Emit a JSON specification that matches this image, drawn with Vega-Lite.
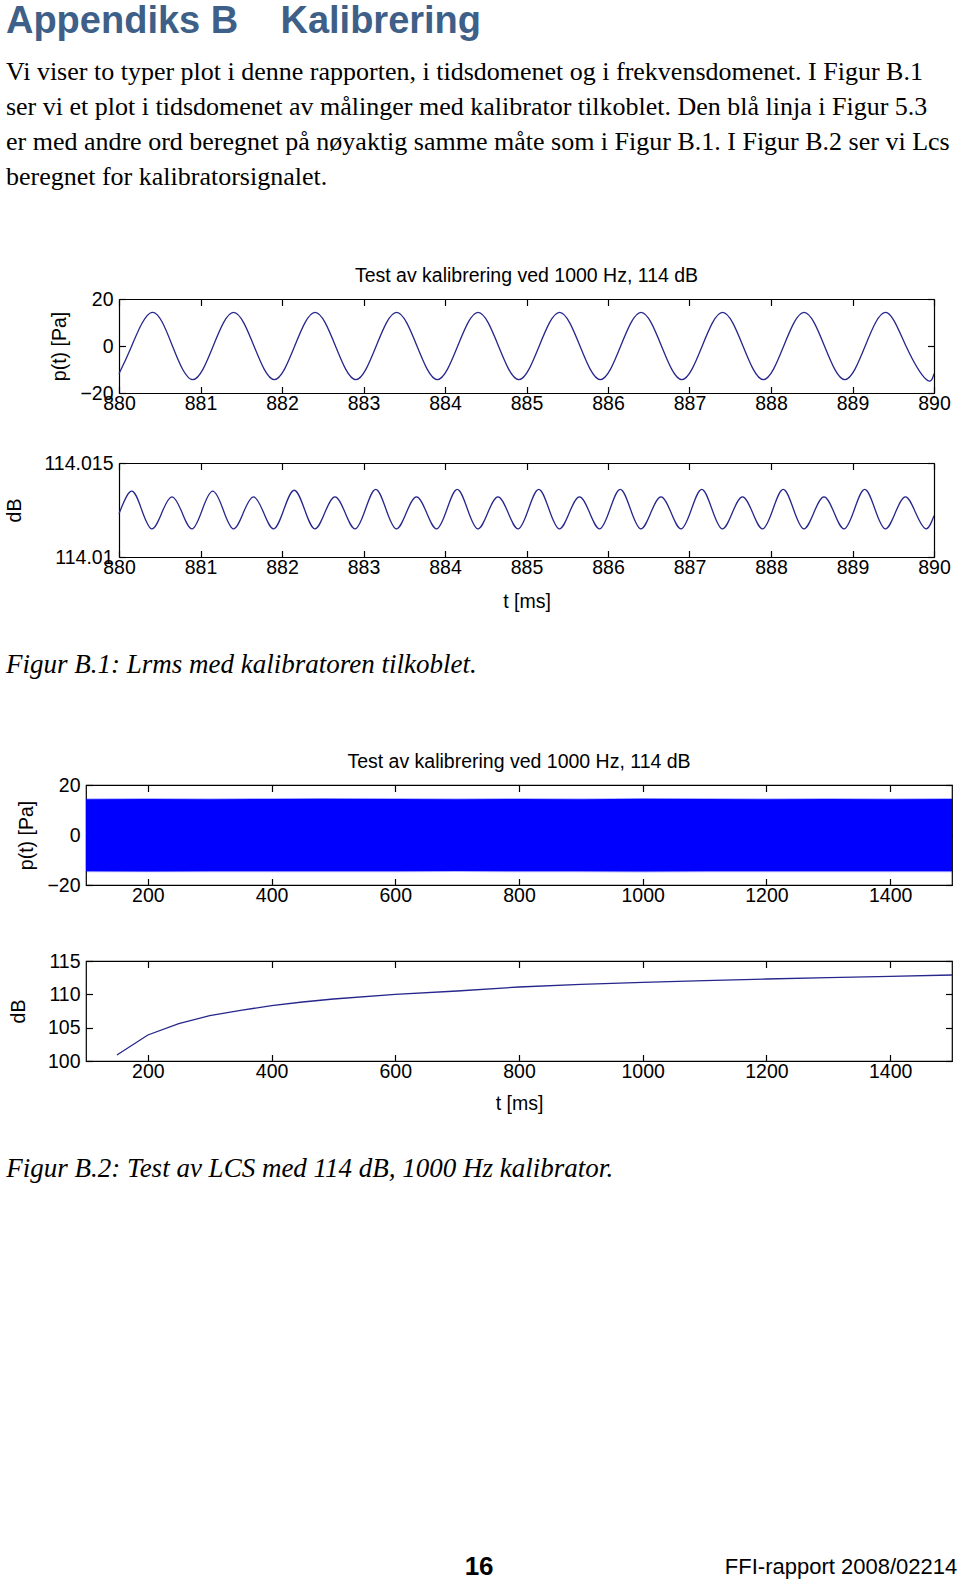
{
  "$schema": "https://vega.github.io/schema/vega-lite/v6.json",
  "background": "white",
  "padding": {"left": 4, "top": 2, "right": 0, "bottom": 0},
  "config": {
    "view": {"stroke": "black", "strokeWidth": 1.2},
    "axis": {"grid": false, "domain": false, "domainColor": "black", "domainWidth": 1.2, "labelFont": "Liberation Sans", "labelFontSize": 19.5, "labelColor": "black", "titleFont": "Liberation Sans", "titleFontSize": 19.5, "titleFontWeight": "normal", "titleColor": "black", "tickColor": "black", "tickSize": -6.5, "tickWidth": 1.2, "labelFlush": false, "labelOverlap": false},
    "axisX": {"labelPadding": 8, "titlePadding": 15},
    "axisY": {"labelPadding": 12.5},
    "title": {"font": "Liberation Sans", "fontWeight": "normal", "color": "black", "subtitleColor": "black"}
  },
  "datasets": {
    "p1": [
      {"t": 880.0, "p": -11.8}, {"t": 880.156, "p": 0}, {"t": 880.406, "p": 14.3}, {"t": 880.656, "p": 0},
      {"t": 880.906, "p": -14.3}, {"t": 881.156, "p": 0}, {"t": 881.406, "p": 14.3}, {"t": 881.656, "p": 0},
      {"t": 881.906, "p": -14.3}, {"t": 882.156, "p": 0}, {"t": 882.406, "p": 14.3}, {"t": 882.656, "p": 0},
      {"t": 882.906, "p": -14.3}, {"t": 883.156, "p": 0}, {"t": 883.406, "p": 14.3}, {"t": 883.656, "p": 0},
      {"t": 883.906, "p": -14.3}, {"t": 884.156, "p": 0}, {"t": 884.406, "p": 14.3}, {"t": 884.656, "p": 0},
      {"t": 884.906, "p": -14.3}, {"t": 885.156, "p": 0}, {"t": 885.406, "p": 14.3}, {"t": 885.656, "p": 0},
      {"t": 885.906, "p": -14.3}, {"t": 886.156, "p": 0}, {"t": 886.406, "p": 14.3}, {"t": 886.656, "p": 0},
      {"t": 886.906, "p": -14.3}, {"t": 887.156, "p": 0}, {"t": 887.406, "p": 14.3}, {"t": 887.656, "p": 0},
      {"t": 887.906, "p": -14.3}, {"t": 888.156, "p": 0}, {"t": 888.406, "p": 14.3}, {"t": 888.656, "p": 0},
      {"t": 888.906, "p": -14.3}, {"t": 889.156, "p": 0}, {"t": 889.406, "p": 14.3}, {"t": 889.656, "p": 0},
      {"t": 889.906, "p": -14.3}, {"t": 890.0, "p": -11.8}
    ],
    "p2": [
      {"t": 880.0, "db": 114.0123}, {"t": 880.15, "db": 114.0135}, {"t": 880.275, "db": 114.01255},
      {"t": 880.4, "db": 114.0115}, {"t": 880.525, "db": 114.01235}, {"t": 880.65, "db": 114.0132}, {"t": 880.775, "db": 114.01235},
      {"t": 880.9, "db": 114.0115}, {"t": 881.025, "db": 114.01255}, {"t": 881.15, "db": 114.0135}, {"t": 881.275, "db": 114.01255},
      {"t": 881.4, "db": 114.0115}, {"t": 881.525, "db": 114.01235}, {"t": 881.65, "db": 114.0132}, {"t": 881.775, "db": 114.01235},
      {"t": 881.9, "db": 114.0115}, {"t": 882.025, "db": 114.01255}, {"t": 882.15, "db": 114.01355}, {"t": 882.275, "db": 114.01255},
      {"t": 882.4, "db": 114.0115}, {"t": 882.525, "db": 114.01235}, {"t": 882.65, "db": 114.0132}, {"t": 882.775, "db": 114.01235},
      {"t": 882.9, "db": 114.0115}, {"t": 883.025, "db": 114.01255}, {"t": 883.15, "db": 114.0136}, {"t": 883.275, "db": 114.01255},
      {"t": 883.4, "db": 114.0115}, {"t": 883.525, "db": 114.01235}, {"t": 883.65, "db": 114.0132}, {"t": 883.775, "db": 114.01235},
      {"t": 883.9, "db": 114.0115}, {"t": 884.025, "db": 114.01255}, {"t": 884.15, "db": 114.0136}, {"t": 884.275, "db": 114.01255},
      {"t": 884.4, "db": 114.0115}, {"t": 884.525, "db": 114.01235}, {"t": 884.65, "db": 114.0132}, {"t": 884.775, "db": 114.01235},
      {"t": 884.9, "db": 114.0115}, {"t": 885.025, "db": 114.01255}, {"t": 885.15, "db": 114.0136}, {"t": 885.275, "db": 114.01255},
      {"t": 885.4, "db": 114.0115}, {"t": 885.525, "db": 114.01235}, {"t": 885.65, "db": 114.0132}, {"t": 885.775, "db": 114.01235},
      {"t": 885.9, "db": 114.0115}, {"t": 886.025, "db": 114.01255}, {"t": 886.15, "db": 114.0136}, {"t": 886.275, "db": 114.01255},
      {"t": 886.4, "db": 114.0115}, {"t": 886.525, "db": 114.01235}, {"t": 886.65, "db": 114.0132}, {"t": 886.775, "db": 114.01235},
      {"t": 886.9, "db": 114.0115}, {"t": 887.025, "db": 114.01255}, {"t": 887.15, "db": 114.0136}, {"t": 887.275, "db": 114.01255},
      {"t": 887.4, "db": 114.0115}, {"t": 887.525, "db": 114.01235}, {"t": 887.65, "db": 114.0132}, {"t": 887.775, "db": 114.01235},
      {"t": 887.9, "db": 114.0115}, {"t": 888.025, "db": 114.01255}, {"t": 888.15, "db": 114.0136}, {"t": 888.275, "db": 114.01255},
      {"t": 888.4, "db": 114.0115}, {"t": 888.525, "db": 114.01235}, {"t": 888.65, "db": 114.0132}, {"t": 888.775, "db": 114.01235},
      {"t": 888.9, "db": 114.0115}, {"t": 889.025, "db": 114.01255}, {"t": 889.15, "db": 114.0136}, {"t": 889.275, "db": 114.01255},
      {"t": 889.4, "db": 114.0115}, {"t": 889.525, "db": 114.01235}, {"t": 889.65, "db": 114.0132}, {"t": 889.775, "db": 114.01235},
      {"t": 889.9, "db": 114.0115}, {"t": 890.0, "db": 114.0122}
    ],
    "p3": [
      {"t": 100, "hi": 14.3, "lo": -14.5, "hi2": 14.7, "lo2": -14.9},
      {"t": 200, "hi": 14.4, "lo": -14.6, "hi2": 14.8, "lo2": -14.9},
      {"t": 300, "hi": 14.3, "lo": -14.5, "hi2": 14.7, "lo2": -14.9},
      {"t": 400, "hi": 14.4, "lo": -14.5, "hi2": 14.8, "lo2": -14.9},
      {"t": 480, "hi": 14.5, "lo": -14.5, "hi2": 14.8, "lo2": -14.9},
      {"t": 600, "hi": 14.4, "lo": -14.5, "hi2": 14.8, "lo2": -14.9},
      {"t": 700, "hi": 14.3, "lo": -14.4, "hi2": 14.7, "lo2": -14.8},
      {"t": 800, "hi": 14.4, "lo": -14.5, "hi2": 14.8, "lo2": -14.9},
      {"t": 900, "hi": 14.3, "lo": -14.5, "hi2": 14.7, "lo2": -14.9},
      {"t": 1000, "hi": 14.5, "lo": -14.6, "hi2": 14.8, "lo2": -15.0},
      {"t": 1100, "hi": 14.4, "lo": -14.5, "hi2": 14.8, "lo2": -14.9},
      {"t": 1200, "hi": 14.3, "lo": -14.5, "hi2": 14.7, "lo2": -14.9},
      {"t": 1300, "hi": 14.4, "lo": -14.5, "hi2": 14.8, "lo2": -14.9},
      {"t": 1400, "hi": 14.3, "lo": -14.5, "hi2": 14.7, "lo2": -14.9},
      {"t": 1500, "hi": 14.4, "lo": -14.5, "hi2": 14.8, "lo2": -14.9}
    ],
    "p4": [
      {"t": 150, "db": 100.9}, {"t": 200, "db": 103.9}, {"t": 250, "db": 105.6}, {"t": 300, "db": 106.8},
      {"t": 350, "db": 107.6}, {"t": 400, "db": 108.3}, {"t": 450, "db": 108.85}, {"t": 500, "db": 109.3},
      {"t": 600, "db": 110.0}, {"t": 700, "db": 110.5}, {"t": 800, "db": 111.1}, {"t": 900, "db": 111.5},
      {"t": 1000, "db": 111.8}, {"t": 1100, "db": 112.05}, {"t": 1200, "db": 112.3}, {"t": 1300, "db": 112.5},
      {"t": 1400, "db": 112.7}, {"t": 1500, "db": 112.9}
    ]
  },
  "title": {"text": "FFI-rapport 2008/02214", "orient": "bottom", "anchor": "end", "offset": -23, "dx": 4, "fontSize": 22, "fontWeight": "normal", "font": "Liberation Sans"},
  "vconcat": [
    {
      "title": {"text": "16", "orient": "bottom", "anchor": "middle", "offset": 372, "fontSize": 26, "fontWeight": "bold", "font": "Liberation Sans"},
      "vconcat": [
        {
          "title": {
            "text": "Appendiks B\u00a0\u00a0\u00a0\u00a0Kalibrering",
            "subtitle": [
              "Vi viser to typer plot i denne rapporten, i tidsdomenet og i frekvensdomenet. I Figur B.1",
              "ser vi et plot i tidsdomenet av målinger med kalibrator tilkoblet. Den blå linja i Figur 5.3",
              "er med andre ord beregnet på nøyaktig samme måte som i Figur B.1. I Figur B.2 ser vi Lcs",
              "beregnet for kalibratorsignalet."
            ],
            "anchor": "start",
            "dx": 1,
            "offset": 75,
            "font": "Liberation Sans",
            "fontSize": 38,
            "fontWeight": "bold",
            "color": "#3e5f88",
            "subtitleFont": "Liberation Serif",
            "subtitleFontSize": 26,
            "subtitleLineHeight": 35.3,
            "subtitlePadding": 18
          },
          "spacing": 72,
          "vconcat": [
            {
              "bounds": "flush",
              "spacing": 70,
              "title": {"text": "Figur B.1: Lrms med kalibratoren tilkoblet.", "orient": "bottom", "anchor": "start", "offset": 41, "dx": 1, "font": "Liberation Serif", "fontStyle": "italic", "fontSize": 27, "fontWeight": "normal"},
              "vconcat": [
                {
                  "width": 848, "height": 94,
                  "view": {"stroke": null},
                  "title": {"text": "Test av kalibrering ved 1000 Hz, 114 dB", "fontSize": 19.5, "offset": 3, "anchor": "middle", "dx": 16.5},
                  "data": {"name": "p1"},
                  "resolve": {"scale": {"x": "independent", "y": "independent"}},
                  "layer": [
                    {
                      "mark": {"type": "line", "interpolate": "natural", "clip": true, "color": "#26268c", "strokeWidth": 1.3},
                      "encoding": {
                        "x": {"field": "t", "type": "quantitative", "scale": {"domain": [880, 890], "range": [33, 848], "nice": false, "zero": false}, "axis": {"values": [880, 881, 882, 883, 884, 885, 886, 887, 888, 889, 890], "title": null, "format": "d", "domain": true}},
                        "y": {"field": "p", "type": "quantitative", "scale": {"domain": [-20, 20], "nice": false}, "axis": {"values": [-20, 0, 20], "title": "p(t) [Pa]", "titlePadding": 10, "offset": -33, "domain": true}}
                      }
                    },
                    {
                      "mark": {"type": "line", "interpolate": "natural", "clip": true, "opacity": 0},
                      "encoding": {
                        "x": {"field": "t", "type": "quantitative", "scale": {"domain": [880, 890], "range": [33, 848], "nice": false, "zero": false}, "axis": {"orient": "top", "values": [880, 881, 882, 883, 884, 885, 886, 887, 888, 889, 890], "labels": false, "title": null, "domain": true}},
                        "y": {"field": "p", "type": "quantitative", "scale": {"domain": [-20, 20], "nice": false}, "axis": {"orient": "right", "values": [-20, 0, 20], "labels": false, "title": null, "domain": true}}
                      }
                    }
                  ]
                },
                {
                  "width": 848, "height": 94,
                  "view": {"stroke": null},
                  "data": {"name": "p2"},
                  "resolve": {"scale": {"x": "independent", "y": "independent"}},
                  "layer": [
                    {
                      "mark": {"type": "line", "interpolate": "natural", "clip": true, "color": "#26268c", "strokeWidth": 1.3},
                      "encoding": {
                        "x": {"field": "t", "type": "quantitative", "scale": {"domain": [880, 890], "range": [33, 848], "nice": false, "zero": false}, "axis": {"values": [880, 881, 882, 883, 884, 885, 886, 887, 888, 889, 890], "title": "t [ms]", "format": "d", "domain": true}},
                        "y": {"field": "db", "type": "quantitative", "scale": {"domain": [114.01, 114.015], "nice": false, "zero": false}, "axis": {"values": [114.01, 114.015], "format": ".3~f", "title": "dB", "titlePadding": 19, "offset": -33, "domain": true}}
                      }
                    },
                    {
                      "mark": {"type": "line", "interpolate": "natural", "clip": true, "opacity": 0},
                      "encoding": {
                        "x": {"field": "t", "type": "quantitative", "scale": {"domain": [880, 890], "range": [33, 848], "nice": false, "zero": false}, "axis": {"orient": "top", "values": [880, 881, 882, 883, 884, 885, 886, 887, 888, 889, 890], "labels": false, "title": null, "domain": true}},
                        "y": {"field": "db", "type": "quantitative", "scale": {"domain": [114.01, 114.015], "nice": false, "zero": false}, "axis": {"orient": "right", "values": [114.01, 114.015], "labels": false, "title": null, "domain": true}}
                      }
                    }
                  ]
                }
              ]
            },
            {
              "bounds": "flush",
              "spacing": 76,
              "title": {"text": "Figur B.2: Test av LCS med 114 dB, 1000 Hz kalibrator.", "orient": "bottom", "anchor": "start", "offset": 43, "dx": -2, "font": "Liberation Serif", "fontStyle": "italic", "fontSize": 27, "fontWeight": "normal"},
              "vconcat": [
                {
                  "width": 866, "height": 100,
                  "title": {"text": "Test av kalibrering ved 1000 Hz, 114 dB", "fontSize": 19.5, "offset": 3, "anchor": "middle"},
                  "data": {"name": "p3"},
                  "resolve": {"scale": {"x": "independent", "y": "independent"}},
                  "layer": [
                    {
                      "mark": {"type": "area", "clip": true, "color": "#0000ff", "opacity": 0.3},
                      "encoding": {
                        "x": {"field": "t", "type": "quantitative", "scale": {"domain": [100, 1500], "nice": false, "zero": false}, "axis": null},
                        "y": {"field": "hi2", "type": "quantitative", "scale": {"domain": [-20, 20], "nice": false}, "axis": null},
                        "y2": {"field": "lo2"}
                      }
                    },
                    {
                      "mark": {"type": "area", "clip": true, "color": "#0000ff", "opacity": 1},
                      "encoding": {
                        "x": {"field": "t", "type": "quantitative", "scale": {"domain": [100, 1500], "nice": false, "zero": false}, "axis": {"values": [200, 400, 600, 800, 1000, 1200, 1400], "title": null, "format": "d"}},
                        "y": {"field": "hi", "type": "quantitative", "scale": {"domain": [-20, 20], "nice": false}, "axis": {"values": [-20, 0, 20], "title": "p(t) [Pa]", "titlePadding": 10}},
                        "y2": {"field": "lo"}
                      }
                    },
                    {
                      "mark": {"type": "line", "clip": true, "opacity": 0},
                      "encoding": {
                        "x": {"field": "t", "type": "quantitative", "scale": {"domain": [100, 1500], "nice": false, "zero": false}, "axis": {"orient": "top", "values": [200, 400, 600, 800, 1000, 1200, 1400], "labels": false, "title": null}},
                        "y": {"field": "hi", "type": "quantitative", "scale": {"domain": [-20, 20], "nice": false}, "axis": {"orient": "right", "values": [-20, 0, 20], "labels": false, "title": null}}
                      }
                    }
                  ]
                },
                {
                  "width": 866, "height": 100,
                  "data": {"name": "p4"},
                  "resolve": {"scale": {"x": "independent", "y": "independent"}},
                  "layer": [
                    {
                      "mark": {"type": "line", "clip": true, "color": "#26268c", "strokeWidth": 1.3},
                      "encoding": {
                        "x": {"field": "t", "type": "quantitative", "scale": {"domain": [100, 1500], "nice": false, "zero": false}, "axis": {"values": [200, 400, 600, 800, 1000, 1200, 1400], "title": "t [ms]", "format": "d", "titlePadding": 13}},
                        "y": {"field": "db", "type": "quantitative", "scale": {"domain": [100, 115], "nice": false, "zero": false}, "axis": {"values": [100, 105, 110, 115], "title": "dB", "titlePadding": 18.5}}
                      }
                    },
                    {
                      "mark": {"type": "line", "clip": true, "opacity": 0},
                      "encoding": {
                        "x": {"field": "t", "type": "quantitative", "scale": {"domain": [100, 1500], "nice": false, "zero": false}, "axis": {"orient": "top", "values": [200, 400, 600, 800, 1000, 1200, 1400], "labels": false, "title": null}},
                        "y": {"field": "db", "type": "quantitative", "scale": {"domain": [100, 115], "nice": false, "zero": false}, "axis": {"orient": "right", "values": [100, 105, 110, 115], "labels": false, "title": null}}
                      }
                    }
                  ]
                }
              ]
            }
          ]
        }
      ]
    }
  ]
}
